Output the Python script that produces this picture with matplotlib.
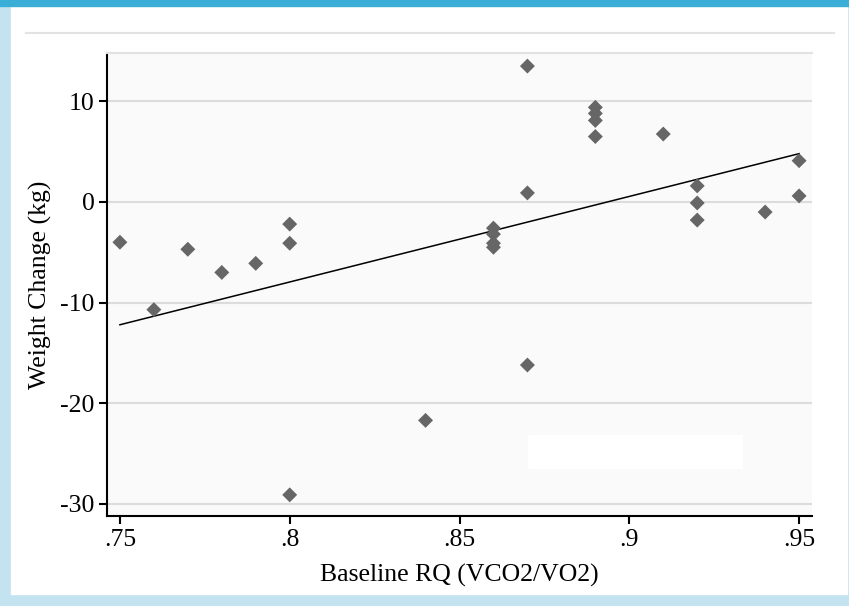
import matplotlib.pyplot as plt
from matplotlib.patches import Rectangle

# baseline RQ vs weight change
rq = [0.75, 0.76, 0.77, 0.78, 0.79, 0.80, 0.80, 0.80, 0.84,
      0.86, 0.86, 0.86, 0.86, 0.87, 0.87, 0.87,
      0.89, 0.89, 0.89, 0.89, 0.91, 0.92, 0.92, 0.92, 0.94, 0.95, 0.95]
wt = [-4.0, -10.7, -4.7, -7.0, -6.1, -2.2, -4.1, -29.1, -21.7,
      -2.6, -3.2, -4.1, -4.5, 13.5, 0.9, -16.2,
      9.4, 8.8, 8.1, 6.5, 6.75, 1.6, -0.1, -1.8, -1.0, 4.1, 0.6]
# fitted line as drawn in the original
fit_x = [0.75, 0.95]
fit_y = [-12.2, 4.8]
xticks = [0.75, 0.80, 0.85, 0.90, 0.95]
xlabels = ['.75', '.8', '.85', '.9', '.95']
yticks = [-30, -20, -10, 0, 10]

W, H = 849, 606
plt.rcParams['font.family'] = ['Liberation Serif', 'DejaVu Serif']
plt.rcParams['axes.unicode_minus'] = False
fig = plt.figure(figsize=(W / 100, H / 100), dpi=100)

# page frame
fig.patches.append(Rectangle((0, 0), 1, 1, transform=fig.transFigure, color='#c3e3f1', zorder=-3))
fig.patches.append(Rectangle((11 / W, 12 / H), (847 - 11) / W, (600 - 12) / H,
                             transform=fig.transFigure, color='white', zorder=-2))
fig.patches.append(Rectangle((0, 1 - 6 / H), 1, 6 / H, transform=fig.transFigure, color='#3aaed6', zorder=-1))
fig.lines.append(plt.Line2D([26 / W, 834 / W], [1 - 33 / H, 1 - 33 / H], transform=fig.transFigure,
                            color='#e2e2e2', lw=1.5, zorder=-1))

ax = fig.add_axes([107 / W, (H - 516) / H, (812 - 107) / W, (516 - 53) / H])
ax.set_zorder(5)
ax.set_facecolor('#fafafa')

ax.scatter(rq, wt, marker='D', s=58, color='#666666', edgecolors='none', zorder=3)
ax.plot(fit_x, fit_y, color='black', lw=1.1, zorder=2)

ax.set_xlim(0.7462, 0.9538)
ax.set_ylim(-31.2, 14.8)
ax.set_xticks(xticks)
ax.set_xticklabels(xlabels)
ax.set_yticks(yticks)
ax.grid(axis='y', color='#dcdcdc', lw=1.5)
ax.set_axisbelow(True)

for s in ['left', 'bottom']:
    ax.spines[s].set_linewidth(1.5)
ax.spines['top'].set_color('#e2e2e2')
ax.spines['top'].set_linewidth(1.5)
ax.spines['right'].set_visible(False)
ax.tick_params(length=6, width=1.5, labelsize=18.5, pad=3)

ax.set_xlabel('Baseline RQ (VCO2/VO2)', fontsize=18.5)
ax.set_ylabel('Weight Change (kg)', fontsize=18.5)
ax.xaxis.set_label_coords(0.5, -(575 - 516) / (516 - 53), transform=ax.transAxes)
ax.yaxis.set_label_coords(-(107 - 40) / (812 - 107), 0.5, transform=ax.transAxes)
ax.xaxis.label.set_va('center')
ax.yaxis.label.set_va('center')

# empty legend box
ax.add_patch(Rectangle((528 / W, (H - 468) / H), (742 - 528) / W, (468 - 435) / H,
                       transform=fig.transFigure, color='white', zorder=1))

fig.savefig('out.png', dpi=100)
